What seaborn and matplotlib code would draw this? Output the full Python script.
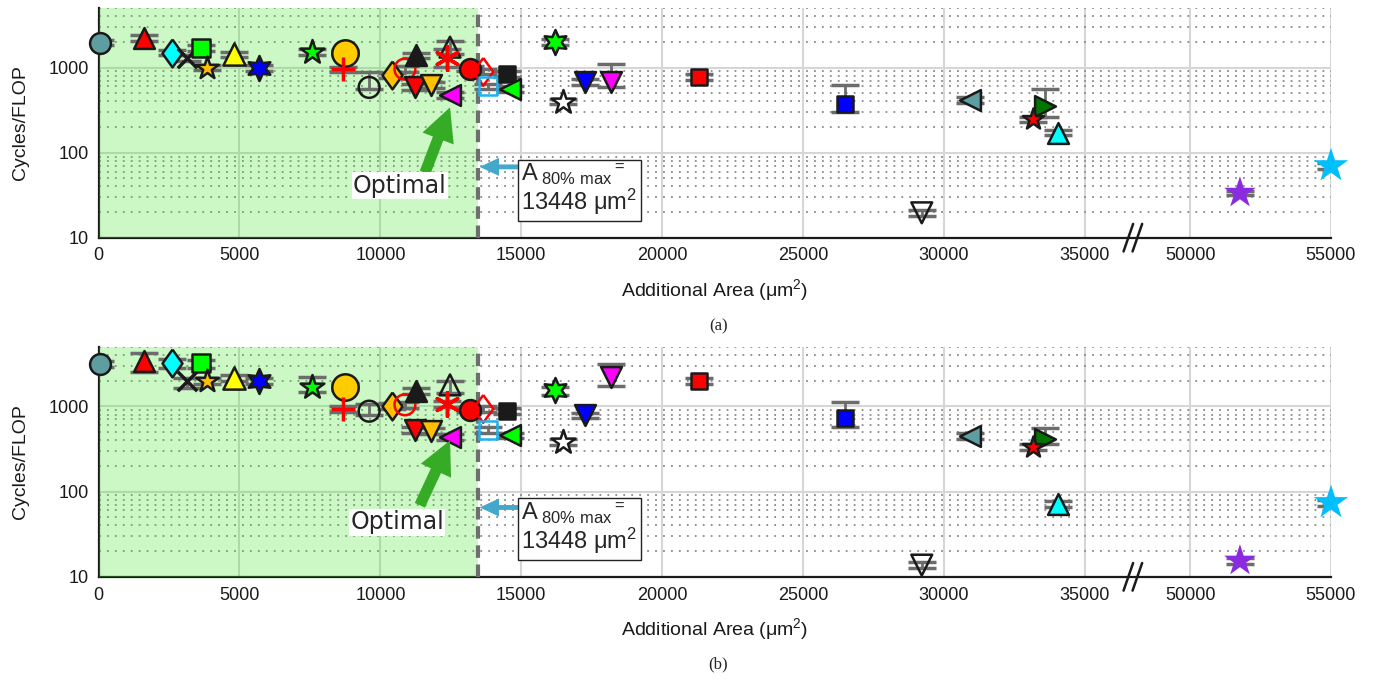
import numpy as np
import pandas as pd
import matplotlib
matplotlib.use("Agg")
import matplotlib.pyplot as plt
import matplotlib.transforms as mtransforms
import seaborn as sns

# ---- data ----
area = [60, 1600, 2600, 3150, 3620, 3840, 4800, 5700, 7580, 8740,
        8680, 9600, 10400, 10870, 11260, 11230, 11780, 12470, 12470, 12380,
        13180, 13650, 13830, 14480, 14600, 16200, 16490, 17260, 18180, 21300,
        26480, 30920, 33590, 33170, 34060, 29210, 51770, 55000]

cyc_a = [1960, 2250, 1500, 1300, 1700, 1000, 1430, 990, 1520, 1500,
         955, 585, 810, 960, 1390, 590, 620, 475, 1740, 1280,
         970, 890, 600, 840, 555, 1990, 396, 680, 680, 765,
         370, 415, 352, 247, 172, 19.6, 33.6, 70]
lo_a = [1820, 2050, 1390, 1200, 1580, 930, 1330, 920, 1410, 1390,
        890, 560, 750, 890, 1290, 550, 580, 440, 1460, 1020,
        900, 830, 560, 780, 515, 1850, 370, 630, 585, 710,
        300, 385, 265, 230, 160, 18.2, 31.5, 65]
hi_a = [2110, 2450, 1620, 1400, 1830, 1080, 1540, 1070, 1640, 1620,
        1030, 890, 870, 1040, 1500, 640, 670, 510, 2050, 1670,
        1050, 960, 650, 910, 600, 2150, 430, 730, 1110, 830,
        620, 450, 555, 265, 185, 21, 35.8, 75]

cyc_b = [3140, 3350, 3200, 1960, 3200, 1960, 2150, 1990, 1670, 1700,
         930, 875, 1000, 1040, 1500, 530, 510, 435, 1780, 1050,
         915, 930, 530, 890, 455, 1530, 380, 780, 2220, 1960,
         730, 446, 408, 331, 71, 13.7, 15.4, 74]
lo_b = [2900, 2500, 2800, 1640, 2800, 1800, 1980, 1830, 1460, 1560,
        860, 800, 920, 960, 1380, 490, 470, 400, 1420, 970,
        850, 860, 490, 820, 420, 1350, 350, 720, 1745, 1800,
        568, 410, 363, 305, 65, 12.7, 14.3, 68]
hi_b = [3400, 4200, 3600, 2150, 3500, 2130, 2340, 2170, 2180, 1850,
        1000, 1050, 1080, 1120, 1630, 570, 550, 470, 2000, 1140,
        990, 1000, 570, 960, 490, 1700, 410, 840, 3130, 2130,
        1114, 480, 558, 360, 77, 14.8, 16.6, 80]

xticks = [0, 5000, 10000, 15000, 20000, 25000, 30000, 35000, 50000, 55000]
yticks = [10, 100, 1000]
a_max = 13448

# ---- marker styles (marker, face, edge, size pt) ----
diam = [(0, 1), (0.72, 0), (0, -1), (-0.72, 0), (0, 1)]
styles = [
    ("o", "#5f9ea0", "k", 15), ("^", "red", "k", 15), (diam, "cyan", "k", 20),
    ("x", "k", "k", 14), ("s", "#00ff00", "k", 13), ("*", "#ffc000", "k", 17),
    ("^", "yellow", "k", 16), ((6, 1, 0), "blue", "k", 18), ("*", "#00ff00", "k", 18),
    ("o", "#ffcc00", "k", 19), ("+", "red", "red", 17), ("o", "none", "k", 15),
    (diam, "#ffc000", "k", 20), ("o", "none", "red", 15), ("^", "k", "k", 15),
    ("v", "red", "k", 15), ("v", "#ffc000", "k", 15), ("<", "magenta", "k", 15),
    ("^", "none", "k", 15), ((6, 2, 0), "red", "red", 17), ("o", "red", "k", 15),
    (diam, "none", "red", 20), ("s", "none", "#1ab2f0", 13), ("s", "k", "k", 12),
    ("<", "#00ff00", "k", 15), ((6, 1, 0), "#00ff00", "k", 18), ("*", "white", "k", 18),
    ("v", "blue", "k", 15), ("v", "magenta", "k", 15), ("s", "red", "k", 12),
    ("s", "blue", "k", 12), ("<", "#5f9ea0", "k", 15), (">", "#007700", "k", 15),
    ("*", "red", "k", 16), ("^", "cyan", "k", 15), ("v", "none", "k", 15),
    ("*", "#8a2be2", "none", 24), ("*", "#00bfff", "none", 26),
]

# ---- broken x axis ----
B_LO, B_HI = 36700, 47970
_src = [-1e6, B_LO, B_HI, 1e6]
_dst = [-1e6, B_LO, B_LO + 1, 1e6 - (B_HI - B_LO - 1)]


def fwd(x):
    return np.interp(x, _src, _dst)


def inv(y):
    return np.interp(y, _dst, _src)


sns.set_theme(style="white")
plt.rcParams["font.family"] = ["Liberation Sans", "DejaVu Sans"]
plt.rcParams["mathtext.fontset"] = "custom"
plt.rcParams["mathtext.rm"] = "Liberation Sans"
plt.rcParams["mathtext.it"] = "Liberation Sans:italic"

fig = plt.figure(figsize=(13.73, 6.81), dpi=100)
ax_a = fig.add_axes([0.0718, 0.651, 0.8976, 0.337])
ax_b = fig.add_axes([0.0718, 0.153, 0.8976, 0.338])

panels = [(ax_a, cyc_a, lo_a, hi_a, "(a)", 0.52, 68, (10695, 41), (12470, 341), (11583, 58), 36.7),
          (ax_b, cyc_b, lo_b, hi_b, "(b)", 0.025, 65, (10590, 43.6), (12470, 397), (11400, 69), 37)]

for ax, cyc, lo, hi, cap, cap_y, ay, opt_xy, head, tail, box_y in panels:
    df = pd.DataFrame({"area": area, "cyc": cyc, "lo": lo, "hi": hi})
    ax.set_xscale("function", functions=(fwd, inv))
    ax.set_yscale("log")
    ax.set_xlim(0, 55000)
    ax.set_ylim(10, 5000)

    ax.set_axisbelow(True)
    ax.grid(True, which="major", color="#d6d6d6", lw=1.5, ls="-")
    ax.grid(True, which="minor", axis="y", color="#8a8a8a", lw=1.3, ls=(0, (1, 3.4)))

    for s in ["top", "right"]:
        ax.spines[s].set_visible(False)
    for s in ["left", "bottom"]:
        ax.spines[s].set_color("#1a1a1a")
        ax.spines[s].set_linewidth(1.6)

    ax.set_xticks(xticks)
    ax.set_xticklabels([str(t) for t in xticks])
    ax.set_yticks(yticks)
    ax.set_yticklabels([str(t) for t in yticks])
    ax.tick_params(axis="both", which="major", direction="in", length=9, width=1.5,
                   labelsize=13, colors="#1a1a1a", pad=7)
    ax.tick_params(axis="y", which="minor", direction="in", length=5, width=1.3, color="#1a1a1a")
    ax.tick_params(axis="x", which="minor", bottom=False)
    ax.xaxis.set_minor_locator(matplotlib.ticker.NullLocator())

    ax.axvspan(0, a_max, color=(0.2, 0.9, 0.1), alpha=0.25, lw=0, zorder=2.6)
    ax.axvline(a_max, color="#6e6e6e", lw=3, ls=(0, (3, 1.6)), zorder=2.7)

    # error bars
    for i, r in df.iterrows():
        ax.errorbar(r["area"], r["cyc"], yerr=[[r["cyc"] - r["lo"]], [r["hi"] - r["cyc"]]],
                    fmt="none", ecolor="#6c6c6c", elinewidth=2, capsize=10, capthick=2.5,
                    zorder=3)
    # markers
    for i, (m, fc, ec, ms) in enumerate(styles):
        lw = 2.5 if m in ("x", "+", (6, 2, 0)) else (0 if ec == "none" else 1.8)
        kw = dict(edgecolor=ec) if m not in ("x", "+", (6, 2, 0)) else {}
        sns.scatterplot(x=[area[i]], y=[cyc[i]], marker=m, s=ms ** 2, color=fc,
                        linewidth=lw, ax=ax, zorder=4, legend=False, clip_on=False, **kw)

    ax.set_xlabel("Additional Area (μm$^2$)", fontsize=14, labelpad=9, color="#1a1a1a")
    ax.set_ylabel("Cycles/FLOP", fontsize=14, labelpad=14, color="#1a1a1a")

    # break marks
    trans = mtransforms.blended_transform_factory(ax.transData, ax.transAxes)
    for off in (-160, 160):
        cx = fwd(B_LO) + off
        ax.plot([inv(cx - 170), inv(cx + 170)], [-0.06, 0.06], color="k", lw=1.8,
                transform=trans, clip_on=False, zorder=6)

    # annotations
    ax.annotate("", xy=head, xytext=tail,
                arrowprops=dict(facecolor="#36ab25", edgecolor="none", width=8,
                                headwidth=24, headlength=24), zorder=5)
    ax.text(opt_xy[0], opt_xy[1], "Optimal", fontsize=17, family="DejaVu Sans",
            ha="center", va="center", zorder=6,
            bbox=dict(facecolor="white", edgecolor="none", pad=1))
    ax.annotate("", xy=(13520, ay), xytext=(14880, ay),
                arrowprops=dict(facecolor="#44a8cc", edgecolor="none", width=3.5,
                                headwidth=13, headlength=14), zorder=5)
    ax.text(15000, box_y, "A$_{\\rm\\ 80\\%\\ max}$$^{=}$\n13448 μm$^2$", fontsize=17,
            ha="left", va="center", linespacing=1.0, zorder=6,
            bbox=dict(facecolor="white", edgecolor="#222222", lw=1, pad=2.5))

    fig.text(0.523, cap_y, cap, fontsize=12, family="Liberation Serif", ha="center", va="center")

fig.savefig("out.png", dpi=100)
